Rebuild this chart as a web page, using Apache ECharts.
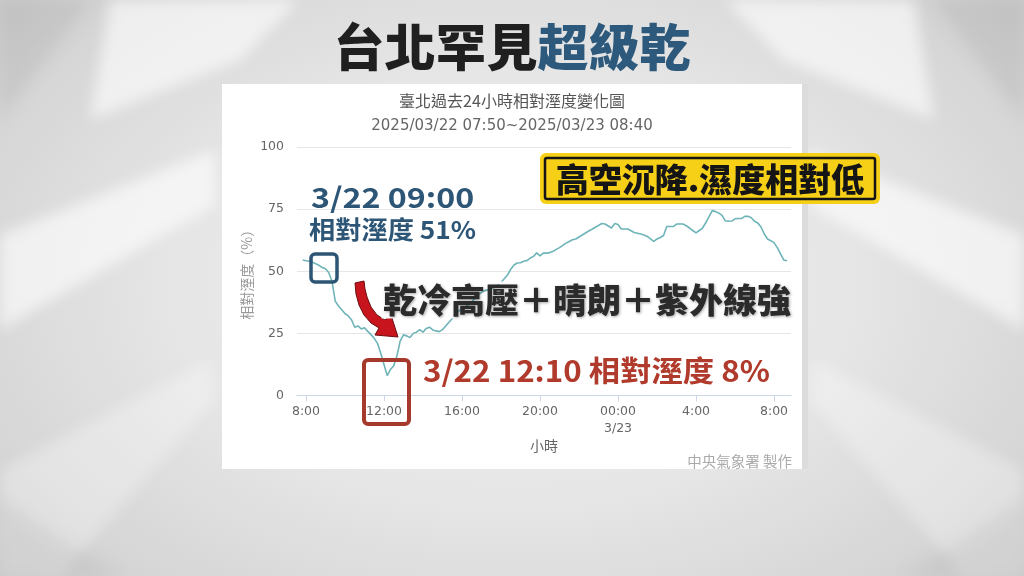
<!DOCTYPE html>
<html><head><meta charset="utf-8">
<script src="https://cdn.jsdelivr.net/npm/echarts@6/dist/echarts.min.js"></script>
<style>
html,body{margin:0;padding:0;width:1024px;height:576px;overflow:hidden;}
body{background:
 radial-gradient(ellipse 65% 75% at 50% 50%, #f0f0f0 0%, #e6e6e6 50%, #d6d6d6 85%, #cbcbcb 100%);}
#bg{position:absolute;left:0;top:0;}
#panel{position:absolute;left:222px;top:84px;width:580px;height:385px;background:#fff;box-shadow:6px 0 0 #dcdcdc;}
#chart{position:absolute;left:0;top:0;width:1024px;height:576px;}
</style></head>
<body>
<svg id="bg" width="1024" height="576">
  <defs>
    <filter id="blur"><feGaussianBlur stdDeviation="7"/></filter>
  </defs>
  <g filter="url(#blur)" fill="#ffffff">
    <polygon points="110,0 300,0 240,60 90,120" opacity="0.6"/>
    <polygon points="0,235 215,150 215,205 0,330" opacity="0.6"/>
    <polygon points="0,470 210,360 215,400 60,576 0,576" opacity="0.3"/>
    <polygon points="914,0 724,0 784,60 934,120" opacity="0.6"/>
    <polygon points="1024,235 809,150 809,205 1024,330" opacity="0.6"/>
    <polygon points="1024,470 814,360 809,400 964,576 1024,576" opacity="0.3"/>
  </g>
  <g filter="url(#blur)" fill="#a8a8a8">
    <polygon points="0,0 90,0 0,120" opacity="0.25"/>
    <polygon points="1024,0 934,0 1024,120" opacity="0.25"/>
    <polygon points="0,576 0,500 120,576" opacity="0.2"/>
    <polygon points="1024,576 1024,500 904,576" opacity="0.2"/>
  </g>
</svg>
<div id="panel"></div>
<div id="chart"></div>
<script>
// ---- data ----
const times = ["07:50","08:00","08:10","08:20","08:30","08:40","08:50","09:00","09:10","09:20","09:30","09:40","09:50",
"10:00","10:10","10:20","10:30","10:40","10:50","11:00","11:10","11:20","11:30","11:40","11:50",
"12:00","12:10","12:20","12:30","12:40","12:50","13:00","13:10","13:20","13:30","13:40","13:50",
"14:00","14:10","14:20","14:30","14:40","14:50","15:00","15:10","15:20","15:30","15:40","15:50",
"16:00","16:10","16:20","16:30","16:40","16:50","17:00","17:10","17:20","17:30","17:40","17:50",
"18:00","18:10","18:20","18:30","18:40","18:50","19:00","19:10","19:20","19:30","19:40","19:50",
"20:00","20:10","20:20","20:30","20:40","20:50","21:00","21:10","21:20","21:30","21:40","21:50",
"22:00","22:10","22:20","22:30","22:40","22:50","23:00","23:10","23:20","23:30","23:40","23:50",
"00:00","00:10","00:20","00:30","00:40","00:50","01:00","01:10","01:20","01:30","01:40","01:50",
"02:00","02:10","02:20","02:30","02:40","02:50","03:00","03:10","03:20","03:30","03:40","03:50",
"04:00","04:10","04:20","04:30","04:40","04:50","05:00","05:10","05:20","05:30","05:40","05:50",
"06:00","06:10","06:20","06:30","06:40","06:50","07:00","07:10","07:20","07:30","07:40","07:50",
"08:00","08:10","08:20","08:30","08:40"];
const humidity = [54.5,54.2,54,53.6,53,52.4,51.5,51,49.5,46,38,36,34.5,
33,32,30.5,27.5,28,26.8,27.3,25.8,24.5,23,21,17,
12.5,8,10.5,12,16,22,24.4,24,23.3,25,25.5,26.5,
25.5,27,27.5,26.4,26,25.7,26.5,28,29.5,31,32.8,34,
35,35.6,36.5,37.8,39,40.5,41.5,42.2,42.5,43,43.6,44.5,
45.5,47,48.5,50.8,52.5,53.3,53.4,54,54.3,55.3,56,57.4,
56.2,57.3,57.3,57.5,58,58.8,59.5,60.4,61.3,62,62.7,63,
63.8,64.6,65.4,66.2,66.9,67.7,68.4,69.2,69,68.2,67.4,69.2,
68.8,67,67,67,66.3,65.6,65.3,65,64.6,64,63,62,
63,63.6,64.4,68,68,68,69,69,69,68.3,67.4,66.4,
65.4,66.4,67.4,69.5,72,74.4,74,73.4,72.5,70.3,70.1,70.2,
71.1,71.2,71.2,72.1,72.1,71.5,70.1,69.4,67.8,65,63,62.3,
61.5,59.5,57,54.5,54.2];
const xTickHours = [8,12,16,20,24,28,32];
const xTickLabels = ["8:00","12:00","16:00","20:00","00:00\n3/23","4:00","8:00"];
const yTicks = [0,25,50,75,100];

// build [hours since 3/22 00:00, value]
let dayOffset = 0, prev = -1;
const seriesData = times.map((t,i)=>{
  const [h,m] = t.split(":").map(Number);
  let hr = h + m/60;
  if (hr + dayOffset < prev) dayOffset += 24;
  hr += dayOffset; prev = hr;
  return [hr, humidity[i]];
});

const chart = echarts.init(document.getElementById('chart'), null, {renderer:'canvas'});
const cjk = '"Noto Sans CJK TC","Noto Sans CJK SC",sans-serif';
const option = {
  backgroundColor: 'transparent',
  animation: false,
  grid: {left: 297, top: 147, width: 494, height: 248.5, containLabel: false},
  xAxis: {
    type: 'value', min: 7.54, max: 32.87,
    name: '小時', nameLocation: 'middle', nameGap: 42,
    nameTextStyle: {color: '#666', fontSize: 14, fontFamily: cjk},
    axisLine: {show: true, lineStyle: {color: '#ccd6eb', width: 1}},
    axisTick: {show: true, customValues: xTickHours, length: 6, lineStyle: {color: '#ccd6eb'}},
    axisLabel: {customValues: xTickHours, color: '#666', fontSize: 12.5, fontFamily: 'DejaVu Sans', margin: 8, lineHeight: 17,
      formatter: v => xTickLabels[xTickHours.indexOf(Math.round(v))] || ''},
    splitLine: {show: false}
  },
  yAxis: {
    type: 'value', min: 0, max: 100, interval: 25,
    name: '相對溼度（%）', nameLocation: 'middle', nameGap: 43, nameRotate: 90,
    nameTextStyle: {color: '#999', fontSize: 14, fontFamily: cjk},
    axisLine: {show: false}, axisTick: {show: false},
    axisLabel: {color: '#666', fontSize: 12.5, fontFamily: 'DejaVu Sans', margin: 13,
      formatter: v => yTicks.includes(v) ? String(v) : ''},
    splitLine: {lineStyle: {color: '#e6e6e6', width: 1}}
  },
  series: [{
    type: 'line', data: seriesData, showSymbol: false, smooth: false,
    lineStyle: {color: '#6eb4b8', width: 1.6}, z: 3
  }],
  graphic: [
    // big headline
    {type: 'text', x: 512, y: 47, z: 100, scaleX: 1.02, style: {
      text: '{a|台北罕見}{b|超級乾}', align: 'center', verticalAlign: 'middle', fontFamily: cjk,
      rich: {
        a: {fontSize: 50, fontWeight: 900, fill: '#1f1f1f', fontFamily: cjk},
        b: {fontSize: 50, fontWeight: 900, fill: '#2d5a7c', fontFamily: cjk}
      }}},
    // chart title/subtitle
    {type: 'text', x: 512, y: 101, z: 100, style: {text: '臺北過去24小時相對溼度變化圖', fontSize: 16, fill: '#555', fontFamily: cjk, align: 'center', verticalAlign: 'middle'}},
    {type: 'text', x: 512, y: 126, z: 100, style: {text: '2025/03/22 07:50~2025/03/23 08:40', fontSize: 15, fill: '#666', fontFamily: 'DejaVu Sans', align: 'center', verticalAlign: 'middle'}},
    // credit
    {type: 'text', x: 792, y: 461, z: 100, style: {text: '中央氣象署 製作', fontSize: 14.5, fill: '#aaa', fontFamily: cjk, align: 'right', verticalAlign: 'middle'}},
    // yellow label
    {type: 'rect', z: 100, shape: {x: 540, y: 153, width: 340, height: 51, r: 6}, style: {fill: '#f6cf17'}},
    {type: 'rect', z: 101, shape: {x: 545, y: 158, width: 330, height: 41, r: 2}, style: {fill: '#f6cf17', stroke: '#151515', lineWidth: 2.5}},
    {type: 'text', x: 710, y: 179, z: 102, style: {text: '高空沉降.濕度相對低', fontSize: 33, fontWeight: 900, fill: '#151515', fontFamily: cjk, align: 'center', verticalAlign: 'middle'}},
    // blue annotation
    {type: 'text', x: 311, y: 197, z: 100, scaleX: 1.15, style: {text: '3/22 09:00', fontSize: 28, fontWeight: 'bold', fill: '#2d5576', fontFamily: cjk, align: 'left', verticalAlign: 'middle'}},
    {type: 'text', x: 309, y: 230, z: 100, scaleX: 1.07, style: {text: '相對溼度 51%', fontSize: 24.5, fontWeight: 'bold', fill: '#2d5576', fontFamily: cjk, align: 'left', verticalAlign: 'middle'}},
    {type: 'rect', z: 100, shape: {x: 311, y: 254, width: 26, height: 28, r: 4}, style: {fill: 'none', stroke: '#2d5576', lineWidth: 3.5}},
    // red annotation
    {type: 'rect', z: 100, shape: {x: 364, y: 360, width: 45, height: 64, r: 4}, style: {fill: 'none', stroke: '#a53a2c', lineWidth: 4}},
    {type: 'text', x: 423, y: 371, z: 100, scaleX: 1.08, style: {text: '3/22 12:10 相對溼度 8%', fontSize: 29, fontWeight: 'bold', fill: '#b03a2b', fontFamily: cjk, align: 'left', verticalAlign: 'middle'}},
    // red curved arrow
    {type: 'polygon', z: 100, shape: {points: [[355,283],[356,294],[359,305],[364,315],[371,323],[379,328],[375,335],[398,337],[391,315],[385,320],[377,315],[371,307],[367,297],[365,289],[364,281]]},
      style: {fill: '#c8141c', stroke: '#6a0d10', lineWidth: 1}},
    // black caption
    {type: 'text', x: 383, y: 300, z: 100, style: {text: '乾冷高壓＋晴朗＋紫外線強', fontSize: 34, fontWeight: 900, fill: '#2b2b2b', fontFamily: cjk, align: 'left', verticalAlign: 'middle',
      textBorderColor: '#ffffff', textBorderWidth: 3, textShadowColor: 'rgba(0,0,0,0.35)', textShadowBlur: 3, textShadowOffsetX: 1, textShadowOffsetY: 1}}
  ]
};
chart.setOption(option);
</script>
</body></html>
